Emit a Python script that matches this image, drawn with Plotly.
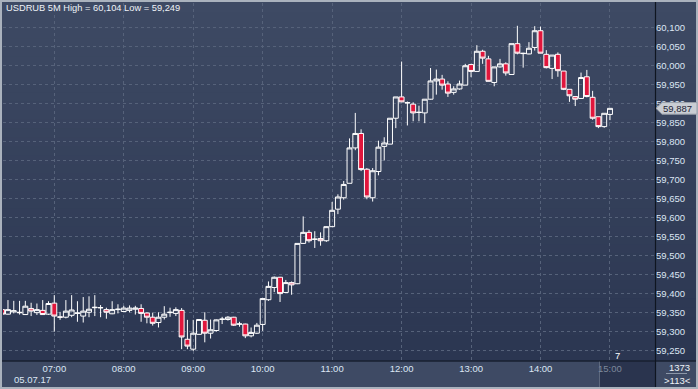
import pandas as pd
import plotly.graph_objects as go

# ---------------- data ----------------
opens = [59.358, 59.346, 59.352, 59.351, 59.345, 59.361, 59.350, 59.356, 59.346, 59.375,
         59.339, 59.338, 59.343, 59.348, 59.341, 59.351, 59.363, 59.363, 59.358, 59.347,
         59.358, 59.353, 59.356, 59.359, 59.361, 59.349, 59.338, 59.324, 59.338, 59.350,
         59.348, 59.356, 59.280, 59.254, 59.293, 59.330, 59.296, 59.303, 59.332, 59.332,
         59.338, 59.320, 59.320, 59.289, 59.296, 59.319, 59.384, 59.416, 59.443, 59.403,
         59.429, 59.426, 59.532, 59.561, 59.543, 59.545, 59.539, 59.576, 59.622, 59.652,
         59.690, 59.783, 59.821, 59.727, 59.652, 59.721, 59.787, 59.793, 59.861, 59.917,
         59.901, 59.898, 59.877, 59.875, 59.911, 59.959, 59.964, 59.951, 59.929, 59.938,
         59.948, 60.002, 59.984, 60.037, 60.017, 59.955, 59.996, 60.004, 59.976, 60.057,
         60.032, 60.030, 60.047, 60.091, 60.029, 59.992, 60.029, 59.985, 59.937, 59.918,
         59.913, 59.970, 59.916, 59.865, 59.839, 59.871]
highs = [59.361, 59.383, 59.381, 59.381, 59.381, 59.376, 59.374, 59.383, 59.380, 59.396,
         59.352, 59.383, 59.396, 59.380, 59.391, 59.393, 59.396, 59.370, 59.363, 59.380,
         59.372, 59.368, 59.369, 59.368, 59.372, 59.351, 59.350, 59.351, 59.367, 59.363,
         59.364, 59.362, 59.331, 59.331, 59.333, 59.351, 59.332, 59.332, 59.339, 59.341,
         59.339, 59.326, 59.321, 59.311, 59.323, 59.387, 59.432, 59.445, 59.444, 59.436,
         59.432, 59.532, 59.603, 59.567, 59.564, 59.561, 59.577, 59.641, 59.661, 59.696,
         59.808, 59.875, 59.832, 59.730, 59.730, 59.802, 59.811, 59.861, 59.917, 60.010,
         59.905, 59.903, 59.894, 59.911, 59.993, 59.989, 59.975, 59.958, 59.945, 59.960,
         60.004, 60.004, 60.053, 60.041, 60.025, 59.996, 60.017, 60.008, 60.057, 60.104,
         60.033, 60.061, 60.103, 60.102, 60.040, 60.027, 60.034, 59.985, 59.937, 59.918,
         59.981, 59.988, 59.933, 59.865, 59.874, 59.887]
lows = [59.345, 59.345, 59.348, 59.345, 59.344, 59.341, 59.344, 59.345, 59.344, 59.300,
        59.331, 59.335, 59.338, 59.326, 59.324, 59.338, 59.341, 59.338, 59.334, 59.346,
        59.348, 59.352, 59.351, 59.345, 59.326, 59.322, 59.316, 59.311, 59.332, 59.339,
        59.341, 59.254, 59.254, 59.249, 59.292, 59.272, 59.282, 59.300, 59.320, 59.329,
        59.315, 59.313, 59.283, 59.285, 59.294, 59.302, 59.381, 59.404, 59.378, 59.402,
        59.397, 59.425, 59.531, 59.534, 59.520, 59.526, 59.536, 59.575, 59.609, 59.647,
        59.690, 59.777, 59.722, 59.648, 59.642, 59.711, 59.750, 59.793, 59.835, 59.903,
        59.842, 59.853, 59.853, 59.848, 59.910, 59.923, 59.936, 59.917, 59.923, 59.936,
        59.948, 59.969, 59.984, 60.004, 59.958, 59.945, 59.994, 59.973, 59.976, 60.029,
        59.994, 60.029, 60.039, 60.032, 59.992, 59.964, 59.970, 59.935, 59.904, 59.893,
        59.912, 59.916, 59.857, 59.835, 59.836, 59.856]
closes = [59.346, 59.358, 59.355, 59.350, 59.367, 59.354, 59.358, 59.345, 59.374, 59.341,
          59.338, 59.354, 59.357, 59.349, 59.354, 59.359, 59.364, 59.363, 59.351, 59.358,
          59.359, 59.362, 59.362, 59.362, 59.348, 59.338, 59.322, 59.338, 59.346, 59.351,
          59.358, 59.286, 59.262, 59.296, 59.332, 59.296, 59.305, 59.331, 59.333, 59.338,
          59.317, 59.320, 59.289, 59.298, 59.317, 59.387, 59.419, 59.443, 59.400, 59.429,
          59.423, 59.532, 59.561, 59.539, 59.543, 59.539, 59.576, 59.619, 59.654, 59.687,
          59.783, 59.821, 59.726, 59.654, 59.723, 59.785, 59.796, 59.861, 59.917, 59.904,
          59.902, 59.875, 59.876, 59.911, 59.959, 59.964, 59.948, 59.927, 59.938, 59.951,
          59.999, 59.984, 60.037, 60.019, 59.958, 59.996, 60.004, 59.980, 60.057, 60.032,
          60.031, 60.045, 60.091, 60.032, 59.994, 60.027, 59.986, 59.937, 59.920, 59.911,
          59.968, 59.918, 59.861, 59.839, 59.874, 59.887]
times = pd.date_range("2017-07-05 06:15", periods=len(opens), freq="5min")

hour_ticks = ["2017-07-05 07:00", "2017-07-05 08:00", "2017-07-05 09:00", "2017-07-05 10:00",
              "2017-07-05 11:00", "2017-07-05 12:00", "2017-07-05 13:00", "2017-07-05 14:00",
              "2017-07-05 15:00"]
hour_labels = ["07:00", "08:00", "09:00", "10:00", "11:00", "12:00", "13:00", "14:00", ""]
y_ticks = [59.25, 59.30, 59.35, 59.40, 59.45, 59.50, 59.55, 59.60, 59.65, 59.70,
           59.75, 59.80, 59.85, 59.90, 59.95, 60.00, 60.05, 60.10]
y_tick_labels = ["59,250", "59,300", "59,350", "59,400", "59,450", "59,500", "59,550",
                 "59,600", "59,650", "59,700", "59,750", "59,800", "59,850", "59,900",
                 "59,950", "60,000", "60,050", "60,100"]
date_label = "05.07.17"
current_label = "15:00"
countdown = "7"
bar_count = "1373"
visible_count = ">113<"

# ---------------- geometry helpers (pixels -> paper) ----------------
W, H = 698, 389
ML, MR, MT, MB = 3, 43, 3, 28
PW, PH = W - ML - MR, H - MT - MB
Y0, Y1 = 59.2229, 60.1639


def px(x):
    return (x - ML) / PW


def py(y):
    return (H - MB - y) / PH


def fmt(v):
    return f"{v:.3f}".replace(".", ",")


FONT = "Liberation Sans, Arial, sans-serif"
TXT = "#dce6f4"

fig = go.Figure()
fig.add_trace(go.Candlestick(
    x=times, open=opens, high=highs, low=lows, close=closes,
    increasing=dict(line=dict(color="#ffffff", width=1), fillcolor="rgba(0,0,0,0)"),
    decreasing=dict(line=dict(color="#ffffff", width=1), fillcolor="#e0163c"),
    whiskerwidth=0, showlegend=False, hoverinfo="skip",
))

shapes = []
# vertical gradient background for plot + right axis area
top_c, bot_c = (62, 74, 100), (43, 54, 81)
n = 40
y0p, y1p = MT, H - MB
for i in range(n):
    t = (i + 0.5) / n
    c = tuple(round(top_c[k] + (bot_c[k] - top_c[k]) * t) for k in range(3))
    ya = y0p + (y1p - y0p) * i / n
    yb = y0p + (y1p - y0p) * (i + 1) / n + 0.6
    shapes.append(dict(type="rect", xref="paper", yref="paper", layer="below",
                       x0=px(0), x1=px(W), y0=py(yb), y1=py(ya),
                       fillcolor=f"rgb{c}", line=dict(width=0)))
# current-bar box in the time strip
shapes.append(dict(type="rect", xref="paper", yref="paper", layer="below",
                   x0=px(599), x1=px(655), y0=py(388), y1=py(361),
                   fillcolor="#2a344e", line=dict(width=0)))
shapes.append(dict(type="line", xref="paper", yref="paper", layer="below",
                   x0=px(599.5), x1=px(599.5), y0=py(388), y1=py(361),
                   line=dict(color="#5d687d", width=1)))
# separators
shapes.append(dict(type="line", xref="paper", yref="paper", layer="above",
                   x0=px(0), x1=px(W), y0=py(361), y1=py(361),
                   line=dict(color="#0f1520", width=1.2)))
shapes.append(dict(type="line", xref="paper", yref="paper", layer="above",
                   x0=px(655.5), x1=px(655.5), y0=py(0), y1=py(H),
                   line=dict(color="#0f1520", width=1.2)))
# small rule between the counters
shapes.append(dict(type="line", xref="paper", yref="paper", layer="above",
                   x0=px(666), x1=px(687), y0=py(373.5), y1=py(373.5),
                   line=dict(color="#8c97a8", width=1)))
# outer frame
shapes.append(dict(type="rect", xref="paper", yref="paper", layer="above",
                   x0=px(1), x1=px(697), y0=py(388), y1=py(1),
                   line=dict(color="#aab2bd", width=2), fillcolor="rgba(0,0,0,0)"))
# last price tag (arrow shaped)
last = closes[-1]
dy = 5.8 * (Y1 - Y0) / PH
xa, xb, xc = px(656), px(662), px(697)
shapes.append(dict(type="path", xref="paper", yref="y", layer="above",
                   path=(f"M {xa},{last} L {xb},{last + dy} L {xc},{last + dy} "
                         f"L {xc},{last - dy} L {xb},{last - dy} Z"),
                   fillcolor="#c9cdd3", line=dict(color="#9aa1ab", width=1)))

annotations = [
    dict(text=f"USDRUB 5M High = {fmt(max(highs))} Low = {fmt(min(lows))}",
         xref="paper", yref="paper", x=px(4), y=py(7.5), xanchor="left", yanchor="middle",
         showarrow=False, font=dict(family=FONT, size=9.3, color="#eef2f7")),
    dict(text=fmt(last), xref="paper", yref="y", x=px(677), y=last,
         xanchor="center", yanchor="middle", showarrow=False,
         font=dict(family=FONT, size=9.5, color="#1c2333")),
    dict(text=date_label, xref="paper", yref="paper", x=px(11.5), y=py(379.5),
         xanchor="left", yanchor="middle", showarrow=False,
         font=dict(family=FONT, size=9.5, color=TXT)),
    dict(text=current_label, xref="paper", yref="paper", x=px(610), y=py(368.5),
         xanchor="center", yanchor="middle", showarrow=False,
         font=dict(family=FONT, size=9.5, color="#7d889b")),
    dict(text=countdown, xref="paper", yref="paper", x=px(617), y=py(355.5),
         xanchor="center", yanchor="middle", showarrow=False,
         font=dict(family=FONT, size=9.5, color="#ffffff")),
    dict(text=bar_count, xref="paper", yref="paper", x=px(679), y=py(367), xanchor="center",
         yanchor="middle", showarrow=False, font=dict(family=FONT, size=9.5, color="#eef2f7")),
    dict(text=visible_count, xref="paper", yref="paper", x=px(677), y=py(380.5), xanchor="center",
         yanchor="middle", showarrow=False, font=dict(family=FONT, size=9.5, color="#eef2f7")),
]

fig.update_layout(
    width=W, height=H,
    margin=dict(l=ML, r=MR, t=MT, b=MB, pad=0),
    paper_bgcolor="#3e4a64",
    plot_bgcolor="rgba(0,0,0,0)",
    font=dict(family=FONT, size=9.5, color=TXT),
    boxgap=0.15, boxgroupgap=0.0,
    shapes=shapes, annotations=annotations,
    showlegend=False,
    xaxis=dict(type="date", range=["2017-07-05 06:15:42", "2017-07-05 15:38:53"],
               rangeslider=dict(visible=False), tickvals=hour_ticks, ticktext=hour_labels,
               showgrid=True, gridcolor="#56627a", griddash="3px,3px", gridwidth=1,
               zeroline=False, showline=False, ticks="", tickfont=dict(size=9.5, color=TXT),
               fixedrange=True),
    yaxis=dict(side="right", range=[Y0, Y1], tickvals=y_ticks, ticktext=y_tick_labels,
               showgrid=True, gridcolor="#56627a", griddash="3px,3px", gridwidth=1,
               zeroline=False, showline=False, ticks="", tickfont=dict(size=9.5, color=TXT),
               fixedrange=True),
)

fig.write_html("out.html", config={"displayModeBar": False},
               post_script="document.body.style.margin='0px';document.body.style.overflow='hidden';")
